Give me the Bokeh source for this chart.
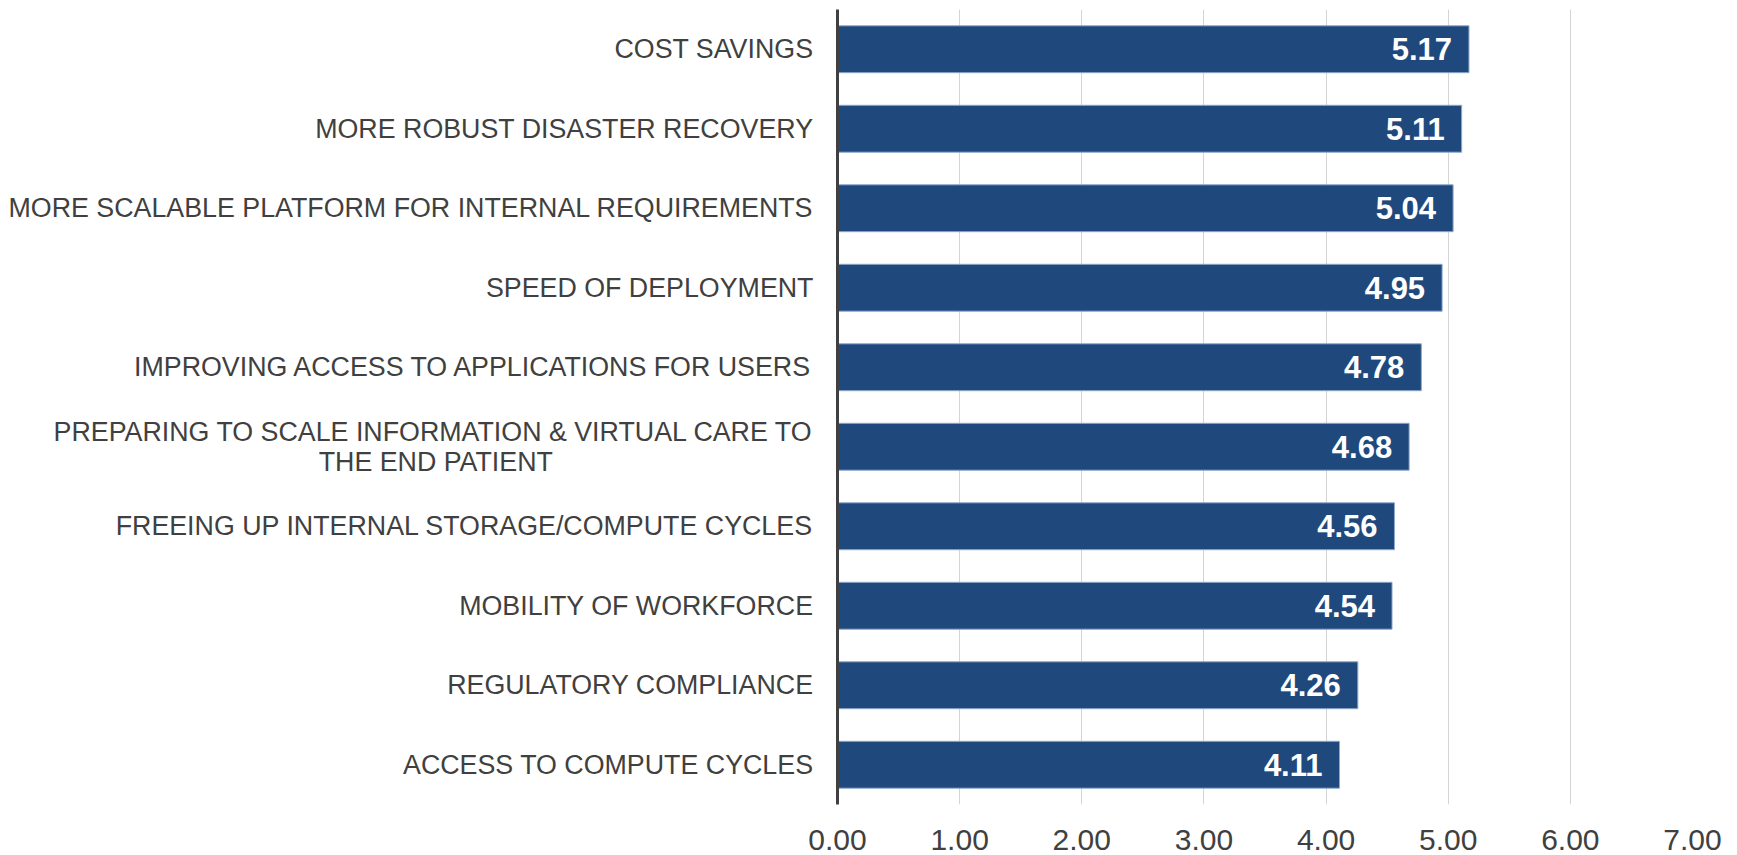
from bokeh.plotting import figure
from bokeh.models import ColumnDataSource, FactorRange, Range1d, FixedTicker, NumeralTickFormatter
from bokeh.core.properties import value
from bokeh.embed import file_html
from bokeh.resources import INLINE

categories = [
    "COST SAVINGS",
    "MORE ROBUST DISASTER RECOVERY",
    "MORE SCALABLE PLATFORM FOR INTERNAL REQUIREMENTS",
    "SPEED OF DEPLOYMENT",
    "IMPROVING ACCESS TO APPLICATIONS FOR USERS",
    "PREPARING TO SCALE INFORMATION & VIRTUAL CARE TO\nTHE END PATIENT",
    "FREEING UP INTERNAL STORAGE/COMPUTE CYCLES",
    "MOBILITY OF WORKFORCE",
    "REGULATORY COMPLIANCE",
    "ACCESS TO COMPUTE CYCLES",
]
scores = [5.17, 5.11, 5.04, 4.95, 4.78, 4.68, 4.56, 4.54, 4.26, 4.11]
x_ticks = [0, 1, 2, 3, 4, 5, 6, 7]

# the axis right-aligns every line; pad the short second line of the
# two-line label with non-breaking spaces so that it sits centred
def display_factor(c):
    if "\n" in c:
        first, second = c.split("\n")
        return first + "\n" + second + "\u00a0" * 35
    return c

factors = [display_factor(c) for c in categories]

source = ColumnDataSource(data=dict(
    cat=factors,
    score=scores,
    label=["%.2f" % v for v in scores],
))

p = figure(
    width=1737, height=855,
    y_range=FactorRange(factors=list(reversed(factors)), range_padding=0),
    x_range=Range1d(0, 7),
    output_backend="svg", toolbar_location=None,
    min_border_left=837, min_border_right=45, min_border_top=9, min_border_bottom=51,
)
p.outline_line_color = None
p.background_fill_color = "white"

p.hbar(y="cat", left=0, right="score", height=0.59, source=source,
       fill_color="#1F497D", line_color="#8FA8CB", line_width=1)

p.text(x="score", y="cat", text="label", source=source,
       x_offset=-17, text_align="right", text_baseline="middle",
       text_color="white", text_font=value("Liberation Sans"),
       text_font_style="bold", text_font_size="31px")

xa = p.xaxis[0]
xa.ticker = FixedTicker(ticks=x_ticks)
xa.formatter = NumeralTickFormatter(format="0.00")
xa.axis_line_color = None
xa.major_tick_line_color = None
xa.minor_tick_line_color = None
xa.major_label_text_font = "Liberation Sans"
xa.major_label_text_font_size = "30px"
xa.major_label_text_color = "#404040"
xa.major_label_text_line_height = 1.0
xa.major_label_standoff = 19

ya = p.yaxis[0]
ya.axis_line_color = "#404040"
ya.axis_line_width = 3
ya.major_tick_line_color = None
ya.minor_tick_line_color = None
ya.major_label_text_font = "Liberation Sans"
ya.major_label_text_font_size = "26.8px"
ya.major_label_text_color = "#404040"
ya.major_label_text_line_height = 1.0
ya.major_label_standoff = 18

p.xgrid.ticker = FixedTicker(ticks=x_ticks)
p.xgrid.grid_line_color = "#D4D4D4"
p.ygrid.grid_line_color = None

open("out.html", "w").write(file_html(p, INLINE))
